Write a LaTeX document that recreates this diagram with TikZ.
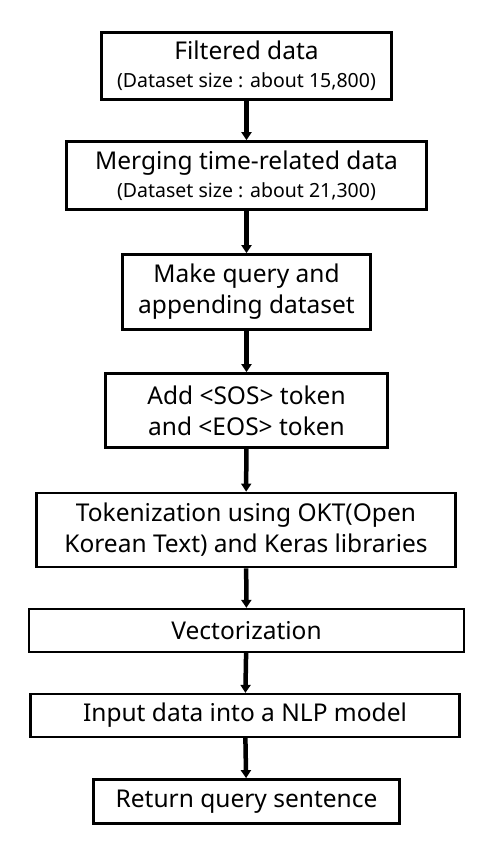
\documentclass[tikz,border=0pt]{standalone}
\usepackage{fontspec}
\setmainfont{Noto Sans}
\usetikzlibrary{arrows.meta,positioning}
\newcommand{\subtextfont}{\fontsize{19.5}{22}\selectfont}

\begin{document}
\begin{tikzpicture}[x=1pt, y=-1pt]
  % Estilos de las cajas y flechas
  \tikzset{
    stepbox/.style={draw, line width=2.8pt, align=center, inner sep=0pt,
      font=\fontsize{24.5}{31}\selectfont},
    thinbox/.style={stepbox, line width=2.3pt},
    flow/.style={line width=4.5pt, -{Triangle[width=10pt,length=8pt]}}
  }

  % Marco de la imagen
  \useasboundingbox (0,0) rectangle (476,842);

  % Centros de las cajas
  \coordinate (Cfilt) at (246.5, 66);
  \coordinate (Cmerg) at (246.5, 175.5);
  \coordinate (Cquer) at (246.5, 292);
  \coordinate (Ctok)  at (246.5, 410.5);
  \coordinate (Ckor)  at (246, 530);
  \coordinate (Cvec)  at (246.5, 630.5);
  \coordinate (Cinp)  at (245, 715.5);
  \coordinate (Cret)  at (246.5, 801.5);

  % --- Cajas del proceso ---
  \node[stepbox, minimum width=290, minimum height=67] (filt) at (Cfilt)
    {Filtered data\\[-3pt]{\subtextfont (Dataset size : about 15,800)}};
  \node[stepbox, minimum width=360, minimum height=68] (merg) at (Cmerg)
    {Merging time-related data\\[-3pt]{\subtextfont (Dataset size : about 21,300)}};
  \node[stepbox, minimum width=248, minimum height=75] (quer) at (Cquer)
    {Make query and\\appending dataset};
  \node[stepbox, minimum width=282, minimum height=74] (tok) at (Ctok)
    {Add <SOS> token\\and <EOS> token};
  \node[stepbox, minimum width=419, minimum height=74] (kor) at (Ckor)
    {Tokenization using OKT(Open\\Korean Text) and Keras libraries};
  \node[thinbox, minimum width=435, minimum height=43] (vec) at (Cvec)
    {Vectorization};
  \node[thinbox, minimum width=429, minimum height=43] (inp) at (Cinp)
    {Input data into a NLP model};
  \node[stepbox, minimum width=306, minimum height=44] (ret) at (Cret)
    {Return query sentence};

  % --- Flechas ---
  \draw[flow] (filt) -- (merg);
  \draw[flow] (merg) -- (quer);
  \draw[flow] (quer) -- (tok);
  \draw[flow] (tok) -- (kor);
  \draw[flow] (kor) -- (vec);
  \draw[flow] (vec) -- (inp);
  \draw[flow] (inp) -- (ret);
\end{tikzpicture}
\end{document}
